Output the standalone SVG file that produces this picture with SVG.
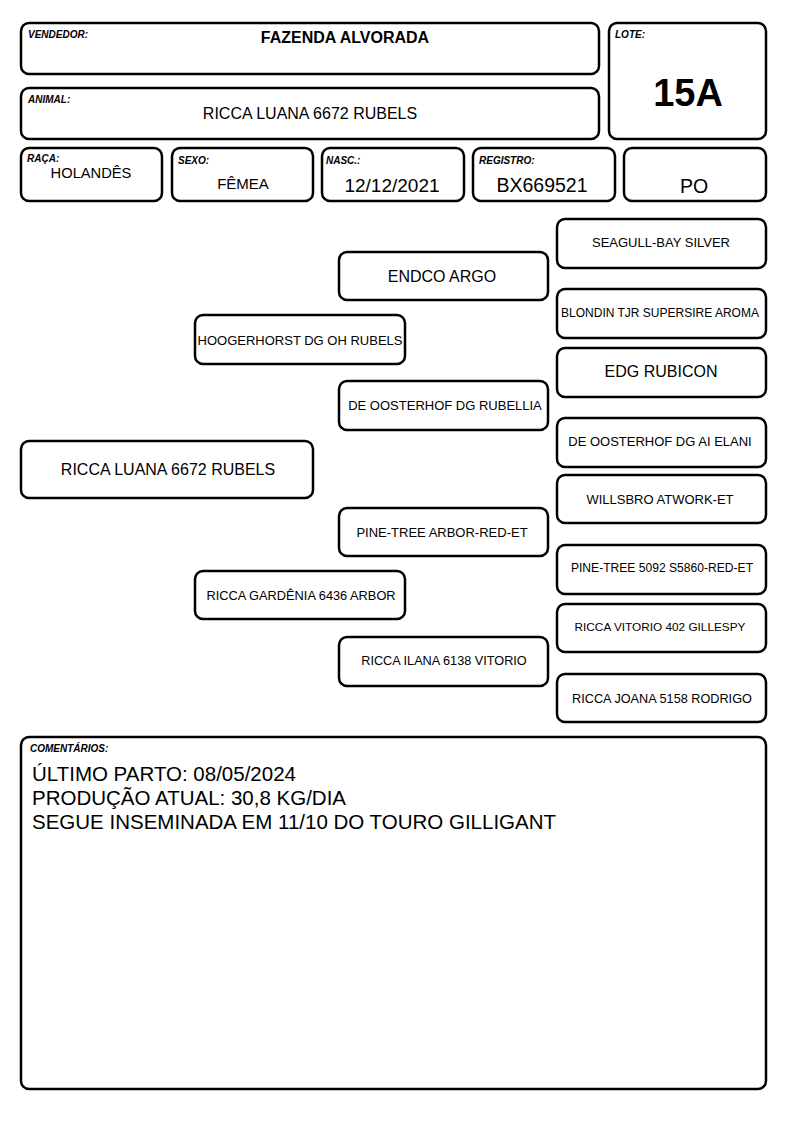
<svg xmlns="http://www.w3.org/2000/svg" width="794" height="1123" viewBox="0 0 794 1123">
<style>
.b{fill:#fff;stroke:#000;stroke-width:2.5}
.lbl{font-family:"Liberation Sans",Arial,sans-serif;font-size:10px;font-weight:bold;font-style:italic;fill:#000}
.t{font-family:"Liberation Sans",Arial,sans-serif;fill:#000;text-anchor:middle}
</style>
<rect width="794" height="1123" fill="#fff"/>
<g id="vendedor"><rect class="b" x="21" y="23" width="578" height="51" rx="8"/><text class="lbl" x="28" y="38">VENDEDOR:</text><text class="t" x="345" y="43" font-size="16" font-weight="bold">FAZENDA ALVORADA</text></g>
<g id="animal"><rect class="b" x="21" y="88" width="578" height="51" rx="8"/><text class="lbl" x="28" y="103">ANIMAL:</text><text class="t" x="310" y="119" font-size="16">RICCA LUANA 6672 RUBELS</text></g>
<g id="lote"><rect class="b" x="609" y="23" width="157" height="116" rx="8"/><text class="lbl" x="615" y="38">LOTE:</text><text class="t" x="688" y="106" font-size="38" font-weight="bold">15A</text></g>
<g id="raca"><rect class="b" x="21" y="148" width="141" height="53" rx="8"/><text class="lbl" x="27" y="162">RAÇA:</text><text class="t" x="91" y="178" font-size="14.7">HOLANDÊS</text></g>
<g id="sexo"><rect class="b" x="172" y="148" width="141" height="53" rx="8"/><text class="lbl" x="178" y="164">SEXO:</text><text class="t" x="243" y="189" font-size="15">FÊMEA</text></g>
<g id="nasc"><rect class="b" x="322" y="148" width="142" height="53" rx="8"/><text class="lbl" x="326" y="164">NASC.:</text><text class="t" x="392" y="192" font-size="19">12/12/2021</text></g>
<g id="registro"><rect class="b" x="473" y="148" width="142" height="53" rx="8"/><text class="lbl" x="479" y="164">REGISTRO:</text><text class="t" x="542" y="192" font-size="19.5">BX669521</text></g>
<g id="po"><rect class="b" x="624" y="148" width="142" height="53" rx="8"/><text class="t" x="694" y="193" font-size="19.5">PO</text></g>
<g id="connectors"></g>
<g id="p0"><rect class="b" x="21" y="441" width="292" height="57" rx="8"/><text class="t" x="168" y="475" font-size="16">RICCA LUANA 6672 RUBELS</text></g>
<g id="p1"><rect class="b" x="195" y="315" width="210" height="49" rx="8"/><text class="t" x="300" y="345" font-size="13">HOOGERHORST DG OH RUBELS</text></g>
<g id="p2"><rect class="b" x="195" y="571" width="210" height="48" rx="8"/><text class="t" x="301" y="600" font-size="12.8">RICCA GARDÊNIA 6436 ARBOR</text></g>
<g id="p3"><rect class="b" x="339" y="252" width="209" height="48" rx="8"/><text class="t" x="442" y="282" font-size="16">ENDCO ARGO</text></g>
<g id="p4"><rect class="b" x="339" y="381" width="209" height="49" rx="8"/><text class="t" x="445" y="410" font-size="13">DE OOSTERHOF DG RUBELLIA</text></g>
<g id="p5"><rect class="b" x="339" y="508" width="209" height="48" rx="8"/><text class="t" x="442" y="537" font-size="13">PINE-TREE ARBOR-RED-ET</text></g>
<g id="p6"><rect class="b" x="339" y="637" width="209" height="49" rx="8"/><text class="t" x="444" y="665" font-size="12.7">RICCA ILANA 6138 VITORIO</text></g>
<g id="p7"><rect class="b" x="557" y="219" width="209" height="49" rx="8"/><text class="t" x="661" y="247" font-size="13">SEAGULL-BAY SILVER</text></g>
<g id="p8"><rect class="b" x="557" y="289" width="209" height="49" rx="8"/><text class="t" x="660" y="317" font-size="12">BLONDIN TJR SUPERSIRE AROMA</text></g>
<g id="p9"><rect class="b" x="557" y="348" width="209" height="49" rx="8"/><text class="t" x="661" y="377" font-size="16">EDG RUBICON</text></g>
<g id="p10"><rect class="b" x="557" y="418" width="209" height="49" rx="8"/><text class="t" x="660" y="446" font-size="13">DE OOSTERHOF DG AI ELANI</text></g>
<g id="p11"><rect class="b" x="557" y="475" width="209" height="48" rx="8"/><text class="t" x="660" y="504" font-size="13">WILLSBRO ATWORK-ET</text></g>
<g id="p12"><rect class="b" x="557" y="545" width="209" height="49" rx="8"/><text class="t" x="662" y="572" font-size="12.1">PINE-TREE 5092 S5860-RED-ET</text></g>
<g id="p13"><rect class="b" x="557" y="604" width="209" height="48" rx="8"/><text class="t" x="660" y="631" font-size="11.8">RICCA VITORIO 402 GILLESPY</text></g>
<g id="p14"><rect class="b" x="557" y="674" width="209" height="48" rx="8"/><text class="t" x="662" y="703" font-size="12.7">RICCA JOANA 5158 RODRIGO</text></g>
<g id="comentarios"><rect class="b" x="21" y="737" width="745" height="352" rx="8"/><text class="lbl" x="30" y="752">COMENTÁRIOS:</text>
<text font-family="Liberation Sans,Arial,sans-serif" font-size="20.5" fill="#000"><tspan x="32" y="781">ÚLTIMO PARTO: 08/05/2024</tspan><tspan x="32" y="805">PRODUÇÃO ATUAL: 30,8 KG/DIA</tspan><tspan x="32" y="829">SEGUE INSEMINADA EM 11/10 DO TOURO GILLIGANT</tspan></text></g>
</svg>
